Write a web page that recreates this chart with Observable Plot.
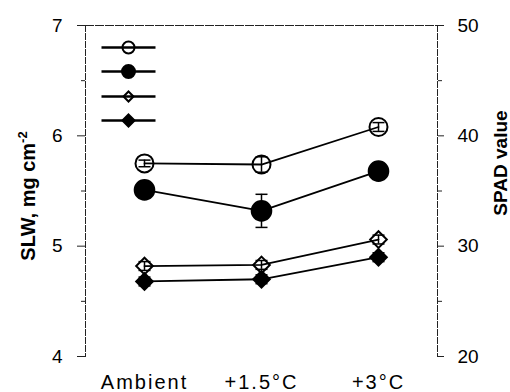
<!DOCTYPE html>
<html>
<head>
<meta charset="utf-8">
<script src="https://cdn.jsdelivr.net/npm/d3@7"></script>
<script src="https://cdn.jsdelivr.net/npm/@observablehq/plot@0.6"></script>
<style>
  html, body { margin: 0; padding: 0; background: #fff; }
  #chart svg [aria-label="x-axis tick label"] text { letter-spacing: 2px; }
</style>
</head>
<body>
<div id="chart"></div>
<script>
// ---- data ----
const categories = ["Ambient", "+1.5°C", "+3°C"];
// SLW, mg cm-2 (left axis)
const slwOpen      = [5.75, 5.74, 6.08];
const slwOpenErr   = [0.03, 0.07, 0.04];
const slwFilled    = [5.51, 5.32, 5.68];
const slwFilledErr = [0.05, 0.15, 0.06];
// SPAD value (right axis)
const spadOpen      = [28.2, 28.3, 30.6];
const spadOpenErr   = [0.4, 0.4, 0.4];
const spadFilled    = [26.8, 27.0, 29.0];
const spadFilledErr = [0.4, 0.4, 0.4];
// ticks
const slwTicks = [4, 5, 6, 7];
const slwMinorTicks = [4.5, 5.5, 6.5];
const spadTicks = [20, 30, 40, 50];
const spadMinorTicks = [25, 35, 45];

// SPAD axis (20..50) is aligned to SLW axis (4..7)
const spadToSlw = s => 4 + (s - 20) / 10;
const slwToSpad = v => String(Math.round(20 + (v - 4) * 10));

const series = [
  {name: "s1", values: slwOpen,    err: slwOpenErr,    conv: v => v,     symbol: "circle",   fill: "none",  r: 9,   lr: 6},
  {name: "s2", values: slwFilled,  err: slwFilledErr,  conv: v => v,     symbol: "circle",   fill: "black", r: 9.8, lr: 6.5},
  {name: "s3", values: spadOpen,   err: spadOpenErr,   conv: spadToSlw,  symbol: "diamond2", fill: "none",  r: 7.5, lr: 4.5},
  {name: "s4", values: spadFilled, err: spadFilledErr, conv: spadToSlw,  symbol: "diamond2", fill: "black", r: 7.5, lr: 5.5}
];

const rows = series.flatMap(s => categories.map((c, i) => ({
  series: s.name,
  x: c,
  y: s.conv(s.values[i]),
  lo: s.conv(s.values[i] - s.err[i]),
  hi: s.conv(s.values[i] + s.err[i])
})));

const hLine = w => ({draw(ctx) { ctx.moveTo(-w, 0); ctx.lineTo(w, 0); }});
const legendDy = [22, 46, 71, 95];
const noText = () => "";

const marks = [
  // axes frame lines
  Plot.frame({anchor: "left", stroke: "#222", strokeDasharray: "6,2"}),
  Plot.frame({anchor: "right", stroke: "#222", strokeDasharray: "6,2"}),
  Plot.ruleY([7], {stroke: "#222", strokeDasharray: "9,1"}),
  // left axis
  Plot.axisY({anchor: "left", ticks: slwTicks, tickFormat: d => String(d), tickSize: 8, tickPadding: 15, fontSize: 19, stroke: "#222", label: null}),
  Plot.axisY({anchor: "left", ticks: slwMinorTicks, tickSize: 4, tickFormat: noText, stroke: "#222", label: null}),
  // right axis (SPAD)
  Plot.axisY({anchor: "right", ticks: spadTicks.map(spadToSlw), tickFormat: slwToSpad, tickSize: 6, tickPadding: 14, fontSize: 19, stroke: "#222", label: null}),
  Plot.axisY({anchor: "right", ticks: spadMinorTicks.map(spadToSlw), tickSize: 4, tickFormat: noText, stroke: "#222", label: null}),
  // x axis labels
  Plot.axisX({tickSize: 0, tickPadding: 18, fontSize: 20, label: null}),
  // titles
  Plot.text(["SLW, mg cm-2"], {frameAnchor: "left", textAnchor: "middle", dx: -57, dy: 5, rotate: -90, fontWeight: "bold", fontSize: 20}),
  Plot.text(["SPAD value"], {frameAnchor: "right", textAnchor: "middle", dx: 63, dy: -28, rotate: -90, fontWeight: "bold", fontSize: 19}),
  // data lines
  Plot.line(rows, {x: "x", y: "y", z: "series", stroke: "black", strokeWidth: 1.8}),
  // error bars
  Plot.ruleX(rows, {x: "x", y1: "lo", y2: "hi", stroke: "black", strokeWidth: 1.5}),
  Plot.dot(rows, {x: "x", y: "lo", symbol: hLine(6), stroke: "black", strokeWidth: 1.5}),
  Plot.dot(rows, {x: "x", y: "hi", symbol: hLine(6), stroke: "black", strokeWidth: 1.5}),
  // markers
  ...series.map(s => Plot.dot(rows.filter(d => d.series === s.name), {
    x: "x", y: "y", symbol: s.symbol, r: s.r, fill: s.fill, stroke: "black", strokeWidth: 2
  })),
  // legend (symbols only, as in the reference)
  ...series.flatMap((s, i) => [
    Plot.dot([s], {frameAnchor: "top-left", dx: 43, dy: legendDy[i], symbol: hLine(27), stroke: "black", strokeWidth: 2.5}),
    Plot.dot([s], {frameAnchor: "top-left", dx: 43, dy: legendDy[i], symbol: s.symbol, r: s.lr, fill: s.fill, stroke: "black", strokeWidth: 2})
  ])
];

const chart = Plot.plot({
  width: 510,
  height: 392,
  marginLeft: 85,
  marginRight: 73,
  marginTop: 25,
  marginBottom: 36,
  style: {fontFamily: "'Liberation Sans', Arial, sans-serif", fontSize: "19px", background: "white", color: "black"},
  x: {type: "point", domain: categories, padding: 0.5, axis: null},
  y: {domain: [4, 7], axis: null},
  marks
});

// superscript for the left title
for (const t of chart.querySelectorAll("text")) {
  if (t.textContent === "SLW, mg cm-2") {
    const ns = "http://www.w3.org/2000/svg";
    t.textContent = "SLW, mg cm";
    const sup = document.createElementNS(ns, "tspan");
    sup.setAttribute("dy", "-0.6em");
    sup.setAttribute("font-size", "13");
    sup.textContent = "-2";
    t.appendChild(sup);
  }
}

document.getElementById("chart").appendChild(chart);
</script>
</body>
</html>
